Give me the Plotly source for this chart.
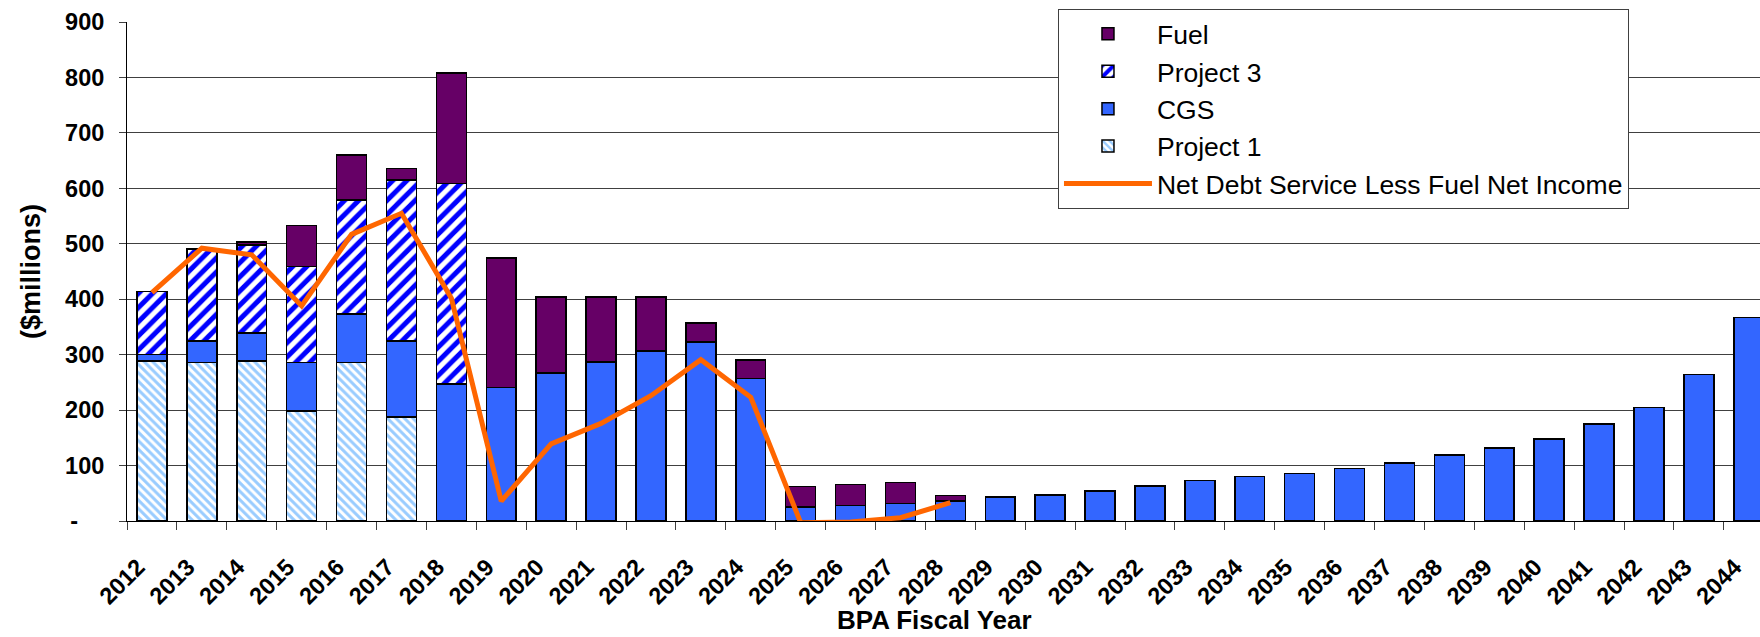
import plotly.graph_objects as go

years = [str(y) for y in range(2012, 2045)]

# Stacked components ($ millions), bottom to top
project1 = [289, 286, 289, 198, 286, 188] + [0] * 27
cgs = [11, 39, 50, 88, 87, 137, 247, 241, 267, 287, 307, 323, 257, 25, 28, 32, 36,
       43, 47, 54, 63, 73, 80, 86, 95, 105, 119, 132, 148, 175, 205, 264, 367]
project3 = [114, 166, 159, 173, 206, 290, 362] + [0] * 26
fuel = [0, 0, 5, 74, 81, 21, 199, 233, 137, 117, 97, 34, 33, 37, 38, 37, 10] + [0] * 16

# Net debt service less fuel net income (series ends in 2028)
net_debt = [412, 492, 480, 388, 517, 555, 402, 36, 139, 176, 226, 291, 223, -3, -2, 6, 33] + [None] * 16

y_ticks = [0, 100, 200, 300, 400, 500, 600, 700, 800, 900]
y_tick_text = ["-\u00a0\u00a0\u00a0\u00a0", "100", "200", "300", "400", "500", "600", "700", "800", "900"]

FONT = "Liberation Sans, Arial, sans-serif"
outline = dict(color="#000000", width=1.5)

fig = go.Figure()

fig.add_trace(go.Bar(
    x=years, y=project1, name="Project 1", legendrank=4, legendgroup="p1",
    marker=dict(color="#99CCFF", line=outline,
                pattern=dict(shape="\\", fgcolor="#99CCFF", bgcolor="#FFFFFF",
                             size=6, solidity=0.5, fillmode="replace")),
))
fig.add_trace(go.Bar(
    x=years, y=cgs, name="CGS", legendrank=3, legendgroup="cgs",
    marker=dict(color="#3366FF", line=outline),
))
fig.add_trace(go.Bar(
    x=years, y=project3, name="Project 3", legendrank=2, legendgroup="p3",
    marker=dict(color="#0000FF", line=outline,
                pattern=dict(shape="/", fgcolor="#0000FF", bgcolor="#FFFFFF",
                             size=10, solidity=0.5, fillmode="replace")),
))
fig.add_trace(go.Bar(
    x=years, y=fuel, name="Fuel", legendrank=1, legendgroup="fuel",
    marker=dict(color="#660066", line=outline),
))
# The line lives on an overlaid x axis that carries the boundary tick marks
fig.add_trace(go.Scatter(
    x=years, y=net_debt, name="Net Debt Service Less Fuel Net Income",
    legendrank=5, legendgroup="net", mode="lines", xaxis="x2", yaxis="y",
    line=dict(color="#FF6600", width=5), connectgaps=False,
))

fig.update_layout(
    width=1760, height=637,
    margin=dict(l=127, r=0, t=22, b=116, autoexpand=False),
    barmode="stack", bargap=0.4,
    plot_bgcolor="#FFFFFF", paper_bgcolor="#FFFFFF",
    font=dict(family=FONT, color="#000000"),
    showlegend=True,
    legend=dict(
        x=0.5701, y=1.026, xanchor="left", yanchor="top",
        bgcolor="#FFFFFF", bordercolor="#404040", borderwidth=1,
        font=dict(family=FONT, size=26.5, color="#000000"),
        tracegroupgap=0, itemwidth=88, traceorder="normal",
    ),
    xaxis=dict(
        type="category", range=[-0.5, 32.225],
        showline=True, linecolor="#000000", linewidth=1,
        ticks="outside", ticklen=22, tickcolor="rgba(0,0,0,0)",
        tickangle=-45, showgrid=False, ticklabelshift=-14,
        tickfont=dict(family=FONT, size=23.5, weight="bold", color="#000000"),
    ),
    xaxis2=dict(
        type="category", overlaying="x", matches="x", anchor="y", side="bottom",
        categoryorder="array", categoryarray=years,
        showline=False, showgrid=False, showticklabels=False,
        ticks="outside", tickson="boundaries", ticklen=8, tickcolor="#404040",
    ),
    yaxis=dict(
        range=[0, 900], tickvals=y_ticks, ticktext=y_tick_text,
        showline=True, linecolor="#000000", linewidth=1,
        ticks="outside", ticklen=7, tickcolor="#404040",
        showgrid=True, gridcolor="#404040", gridwidth=1, zeroline=False,
        ticklabelstandoff=10,
        tickfont=dict(family=FONT, size=23.5, weight="bold", color="#000000"),
        title=dict(text="($millions)", standoff=16,
                   font=dict(family=FONT, size=27, weight="bold", color="#000000")),
    ),
    # x-axis title, set just above the bottom edge of the figure
    annotations=[dict(
        text="BPA Fiscal Year", xref="paper", yref="paper",
        x=0.4942, y=-0.1974, xanchor="center", yanchor="middle", showarrow=False,
        font=dict(family=FONT, size=26, weight="bold", color="#000000"),
    )],
)

fig.write_html("out.html")
